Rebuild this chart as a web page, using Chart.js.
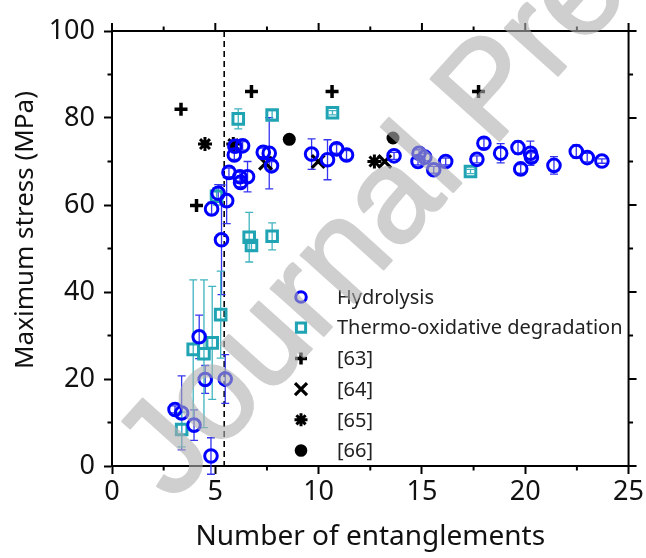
<!DOCTYPE html>
<html>
<head>
<meta charset="utf-8">
<script src="https://cdn.jsdelivr.net/npm/chart.js@4.4.0/dist/chart.umd.min.js"></script>
<style>
  html, body { margin: 0; padding: 0; background: #fff; }
  #wrap { width: 646px; height: 558px; }
</style>
</head>
<body>
<div id="wrap"><canvas id="chart" width="646" height="558"></canvas></div>
<script>
// Hydrolysis (blue open circles)
const hydroX   = [3.05, 3.37, 3.97, 4.79, 4.22, 4.51, 5.48, 5.30, 4.82, 5.14, 5.55, 5.66, 6.19, 6.22, 6.56, 5.92, 5.95, 6.32, 7.32, 7.61, 7.72, 9.66, 10.43, 10.87, 11.35, 13.65, 14.86, 15.14, 14.81, 15.57, 16.15, 17.66, 18.0, 18.81, 19.65, 19.78, 20.25, 20.3, 21.39, 22.47, 23.0, 23.71];
const hydroY   = [13.0, 12.2, 9.4, 2.3, 29.7, 19.9, 20.0, 52.0, 59.1, 62.7, 61.0, 67.5, 66.5, 65.2, 66.5, 71.5, 73.5, 73.6, 72.1, 71.9, 69.0, 71.7, 70.4, 72.9, 71.5, 71.3, 71.9, 71.0, 70.0, 68.1, 70.0, 70.5, 74.2, 71.9, 73.2, 68.3, 71.9, 71.0, 69.1, 72.3, 70.9, 70.1];
const hydroErr = [0.8, 8.5, 3.5, 4.2, 5.0, 3.2, 5.6, 12.6, 1.5, 2.0, 5.3, 1.0, 1.0, 1.0, 3.5, 1.0, 1.0, 1.0, 1.0, 8.2, 1.0, 3.5, 4.6, 1.0, 1.0, 0.8, 0.8, 0.8, 0.8, 0.8, 0.8, 0.8, 1.0, 2.2, 1.5, 1.0, 2.8, 1.0, 2.0, 1.5, 1.0, 0.5];

// Thermo-oxidative degradation (teal open squares)
const thermoX   = [3.37, 3.93, 4.45, 4.85, 5.26, 5.06, 6.11, 6.64, 6.75, 7.75, 7.75, 10.67, 17.35];
const thermoY   = [8.4, 26.8, 25.8, 28.3, 34.8, 62.0, 79.8, 52.6, 50.7, 52.8, 80.7, 81.2, 67.7];
const thermoErr = [4.0, 16.0, 17.0, 13.0, 10.0, 2.0, 2.3, 5.7, 1.0, 3.1, 1.0, 0.5, 0.5];

// literature values
const ref63X = [3.34, 4.09, 6.75, 10.65, 17.74];
const ref63Y = [82.0, 59.9, 86.1, 86.1, 86.1];
const ref64X = [7.43, 9.98, 13.2];
const ref64Y = [69.6, 70.0, 70.0];
const ref65X = [4.5, 5.87, 12.7];
const ref65Y = [74.0, 74.0, 70.0];
const ref66X = [8.58, 13.6];
const ref66Y = [75.1, 75.4];

const seriesLabels = ['Hydrolysis', 'Thermo-oxidative degradation', '[63]', '[64]', '[65]', '[66]'];
const xTicks = [0, 5, 10, 15, 20, 25];
const yTicks = [0, 20, 40, 60, 80, 100];
const entanglementLimit = 5.43;

const BLUE = '#0000ff';
const TEAL = '#20a4b4';

function pts(xs, ys) {
    return xs.map((x, i) => ({ x: x, y: ys[i] }));
}

const decor = {
    id: 'decor',
    beforeDatasetsDraw(chart) {
        const { ctx, chartArea: a, scales: { x, y } } = chart;
        ctx.save();
        // dashed entanglement line
        ctx.strokeStyle = '#000';
        ctx.lineWidth = 1.6;
        ctx.setLineDash([6, 4]);
        const lx = x.getPixelForValue(entanglementLimit);
        ctx.beginPath();
        ctx.moveTo(lx, a.top);
        ctx.lineTo(lx, a.bottom);
        ctx.stroke();
        ctx.setLineDash([]);

        // error bars
        chart.data.datasets.forEach(ds => {
            if (!ds.errors) return;
            ctx.strokeStyle = ds.errorColor;
            ctx.lineWidth = 1.3;
            ds.data.forEach((p, i) => {
                const e = ds.errors[i];
                if (!e) return;
                const px = x.getPixelForValue(p.x);
                const t = y.getPixelForValue(p.y + e);
                const b = y.getPixelForValue(p.y - e);
                ctx.beginPath();
                ctx.moveTo(px, t); ctx.lineTo(px, b);
                ctx.moveTo(px - 4, t); ctx.lineTo(px + 4, t);
                ctx.moveTo(px - 4, b); ctx.lineTo(px + 4, b);
                ctx.stroke();
            });
        });
        ctx.restore();
    },
    afterDatasetsDraw(chart) {
        const { ctx, chartArea: a, scales: { x, y } } = chart;
        ctx.save();
        ctx.strokeStyle = '#000';
        ctx.lineWidth = 2;
        // top + right frame
        ctx.beginPath();
        ctx.moveTo(a.left - 1, a.top);
        ctx.lineTo(a.right, a.top);
        ctx.lineTo(a.right, a.bottom + 1);
        ctx.stroke();

        // ticks: minor on all sides, major mirrored on top / right
        ctx.beginPath();
        for (let v = 0; v <= 25; v += 2.5) {
            const px = x.getPixelForValue(v);
            const major = v % 5 === 0;
            const len = major ? 8 : 4.5;
            if (!major) { ctx.moveTo(px, a.bottom); ctx.lineTo(px, a.bottom + len); }
            ctx.moveTo(px, a.top); ctx.lineTo(px, a.top - len);
        }
        for (let v = 0; v <= 100; v += 10) {
            const py = y.getPixelForValue(v);
            const major = v % 20 === 0;
            const len = major ? 8 : 4.5;
            if (!major) { ctx.moveTo(a.left, py); ctx.lineTo(a.left - len, py); }
            ctx.moveTo(a.right, py); ctx.lineTo(a.right + len, py);
        }
        ctx.stroke();

        // y axis title (sits a bit above the plot centre in the original)
        ctx.save();
        ctx.translate(26, 230);
        ctx.rotate(-Math.PI / 2);
        ctx.font = '26px "Noto Sans"';
        ctx.fillStyle = '#111';
        ctx.textAlign = 'center';
        ctx.textBaseline = 'middle';
        ctx.fillText('Maximum stress (MPa)', 0, 0);
        ctx.restore();

        // legend
        const lx = 301, tx = 337, ly0 = 297, step = 30.7;
        ctx.font = '20px "Noto Sans"';
        ctx.textBaseline = 'middle';
        chart.data.datasets.forEach((ds, i) => {
            const yy = ly0 + i * step;
            ctx.save();
            ctx.strokeStyle = ds.borderColor;
            ctx.fillStyle = ds.backgroundColor;
            ctx.lineWidth = ds.borderWidth;
            Chart.helpers.drawPoint(ctx, {
                pointStyle: ds.pointStyle,
                radius: ds.legendRadius,
                rotation: 0,
                borderWidth: ds.borderWidth
            }, lx, yy);
            ctx.restore();
            ctx.fillStyle = '#222';
            ctx.fillText(ds.label, tx, yy + 1);
        });

        // watermark: drawn opaque off-screen, then laid over with alpha
        const wm = document.createElement('canvas');
        wm.width = chart.width; wm.height = chart.height;
        const w = wm.getContext('2d');
        w.translate(173, 503);
        w.rotate(-48 * Math.PI / 180);
        w.font = '134px "Liberation Sans"';
        w.fillStyle = 'rgb(175,175,175)';
        w.strokeStyle = 'rgb(175,175,175)';
        w.lineWidth = 2.5;
        w.lineJoin = 'round';
        w.fillText('Journal Pre-proof', 0, 0);
        w.strokeText('Journal Pre-proof', 0, 0);
        ctx.globalAlpha = 0.6;
        ctx.drawImage(wm, 0, 0);
        ctx.restore();
    }
};

const tickFont = { family: '"Noto Sans"', size: 27 };

new Chart(document.getElementById('chart'), {
    type: 'scatter',
    data: {
        datasets: [
            {
                label: seriesLabels[0], data: pts(hydroX, hydroY), errors: hydroErr, errorColor: '#3535f0',
                pointStyle: 'circle', pointRadius: 6.3, legendRadius: 5.3, borderWidth: 3,
                borderColor: BLUE, backgroundColor: 'rgba(0,0,0,0)'
            },
            {
                label: seriesLabels[1], data: pts(thermoX, thermoY), errors: thermoErr, errorColor: '#40b4c0',
                pointStyle: 'rect', pointRadius: 7.5, legendRadius: 6.5, borderWidth: 3,
                borderColor: TEAL, backgroundColor: 'rgba(0,0,0,0)'
            },
            {
                label: seriesLabels[2], data: pts(ref63X, ref63Y),
                pointStyle: 'cross', pointRadius: 6.5, legendRadius: 6, borderWidth: 3.5,
                borderColor: '#000', backgroundColor: 'rgba(0,0,0,0)'
            },
            {
                label: seriesLabels[3], data: pts(ref64X, ref64Y),
                pointStyle: 'crossRot', pointRadius: 9, legendRadius: 8.5, borderWidth: 3.2,
                borderColor: '#000', backgroundColor: 'rgba(0,0,0,0)'
            },
            {
                label: seriesLabels[4], data: pts(ref65X, ref65Y),
                pointStyle: 'star', pointRadius: 7, legendRadius: 6.5, borderWidth: 3,
                borderColor: '#000', backgroundColor: 'rgba(0,0,0,0)'
            },
            {
                label: seriesLabels[5], data: pts(ref66X, ref66Y),
                pointStyle: 'circle', pointRadius: 6.5, legendRadius: 6.3, borderWidth: 0,
                borderColor: '#000', backgroundColor: '#000'
            }
        ]
    },
    options: {
        responsive: false,
        devicePixelRatio: 1,
        animation: false,
        layout: { padding: { top: 31, right: 17, left: 0, bottom: 0 } },
        plugins: { legend: { display: false }, tooltip: { enabled: false } },
        elements: { point: { hoverRadius: 6 } },
        scales: {
            x: {
                type: 'linear', min: 0, max: 25,
                afterBuildTicks: s => { s.ticks = xTicks.map(v => ({ value: v })); },
                afterFit: s => { s.height = 92; },
                ticks: { font: tickFont, color: '#111', padding: 2 },
                grid: { drawOnChartArea: false, drawTicks: true, tickLength: 8, tickWidth: 2, tickColor: '#000', color: 'rgba(0,0,0,0)' },
                border: { display: true, color: '#000', width: 2 },
                title: { display: true, text: 'Number of entanglements', font: { family: '"Noto Sans"', size: 28 }, color: '#111', padding: { top: 14 } }
            },
            y: {
                type: 'linear', min: 0, max: 100,
                afterBuildTicks: s => { s.ticks = yTicks.map(v => ({ value: v })); },
                afterFit: s => { s.width = 112; },
                ticks: { font: tickFont, color: '#111', padding: 9 },
                grid: { drawOnChartArea: false, drawTicks: true, tickLength: 8, tickWidth: 2, tickColor: '#000', color: 'rgba(0,0,0,0)' },
                border: { display: true, color: '#000', width: 2 },
                title: { display: false }
            }
        }
    },
    plugins: [decor]
});
</script>
</body>
</html>
